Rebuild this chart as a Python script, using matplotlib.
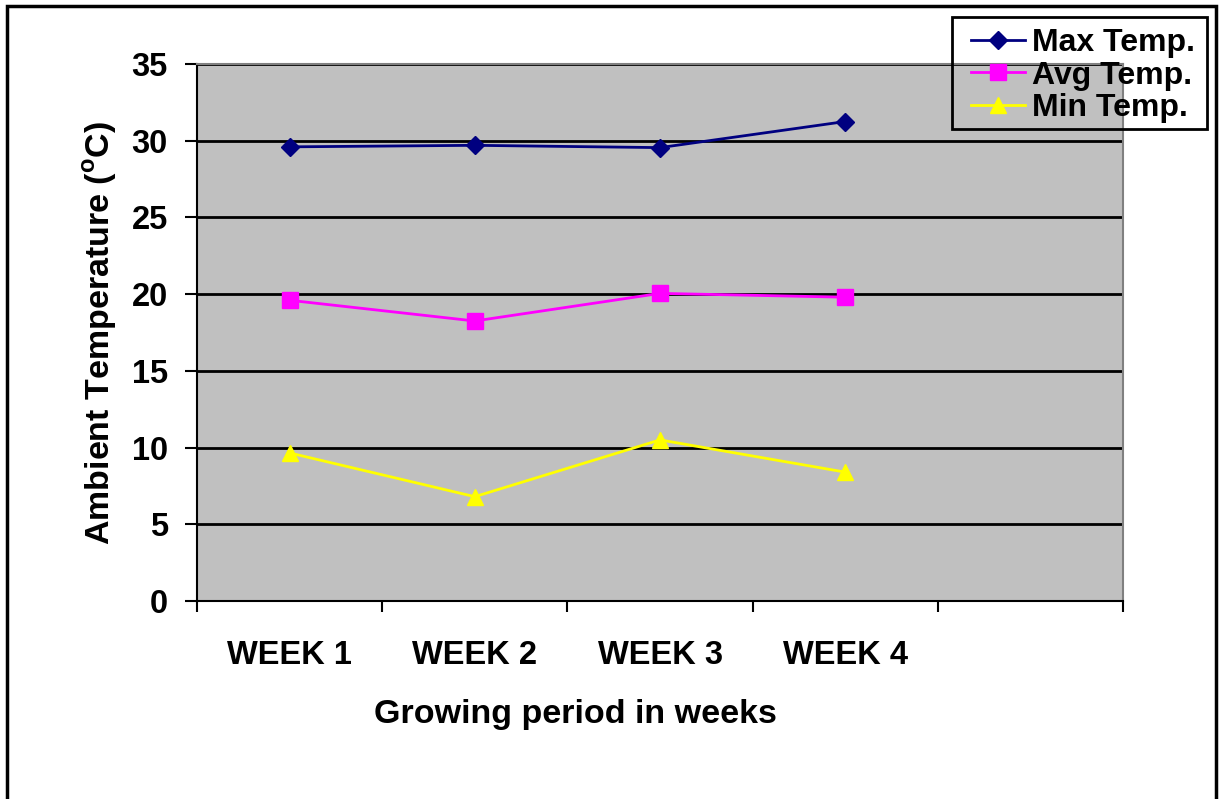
import matplotlib
matplotlib.use("Agg")
import matplotlib.pyplot as plt
from matplotlib.patches import Rectangle
import numpy as np

plt.rcParams.update({
    "font.family": "Liberation Sans",
    "font.weight": "bold",
    "axes.labelweight": "bold",
    "mathtext.fontset": "custom",
    "mathtext.rm": "Liberation Sans:bold",
    "mathtext.bf": "Liberation Sans:bold",
})

weeks = ["WEEK 1", "WEEK 2", "WEEK 3", "WEEK 4"]
n_slots = 5  # category axis keeps one empty slot after week 4
max_temp = [29.6, 29.7, 29.55, 31.25]
avg_temp = [19.6, 18.25, 20.05, 19.8]
min_temp = [9.65, 6.8, 10.5, 8.4]

W, H = 1219, 799
fig = plt.figure(figsize=(W / 100, H / 100), dpi=100)
ax = fig.add_axes([197 / W, 1 - 601 / H, (1123 - 197) / W, (601 - 64) / H])
ax.set_facecolor("#C0C0C0")

x = np.arange(len(weeks)) + 0.5
ax.plot(x, max_temp, color="#000080", lw=2, marker="D", ms=9.5, label="Max Temp.", zorder=3)
ax.plot(x, avg_temp, color="#FF00FF", lw=2, marker="s", ms=11, label="Avg Temp.", zorder=3)
ax.plot(x, min_temp, color="#FFFF00", lw=2, marker="^", ms=12, label="Min Temp.", zorder=3)

ax.set_xlim(0, n_slots)
ax.set_ylim(0, 35)
ax.set_yticks(np.arange(0, 36, 5))
ax.yaxis.grid(True, color="black", lw=2)
ax.set_axisbelow(True)

ax.set_xticks(np.arange(0, n_slots + 1))
ax.set_xticklabels([])
ax.set_xticks(x, minor=True)
ax.set_xticklabels(weeks, minor=True)
ax.tick_params(axis="x", which="major", direction="out", length=8, width=1.5)
ax.tick_params(axis="x", which="minor", length=0, pad=28, labelsize=23.5)
ax.tick_params(axis="y", direction="out", length=9, width=1.5, pad=12, labelsize=23.5)

for side in ("left", "bottom"):
    ax.spines[side].set_color("black")
    ax.spines[side].set_linewidth(1.5)
for side in ("top", "right"):
    ax.spines[side].set_color("#808080")
    ax.spines[side].set_linewidth(1.5)

ax.set_xlabel("Growing period in weeks", fontsize=24.5)
ax.xaxis.set_label_coords((575 - 197) / 926, -0.183)
ax.set_ylabel(r"Ambient Temperature ($^{\mathbf{o}}$C)", fontsize=24.5, labelpad=9)

# transparent legend with its own box, so the plot area shows through
fig.legend(loc="upper left", bbox_to_anchor=(971 / W, 1 - 28 / H),
           fontsize=23, handlelength=1.69, labelspacing=0.08,
           borderpad=0, handletextpad=0.22, borderaxespad=0, frameon=False)
fig.patches.append(Rectangle((952 / W, 1 - 129 / H), (1207 - 952) / W, 112 / H,
                             transform=fig.transFigure, fill=False,
                             edgecolor="black", lw=2, zorder=6))

fig.patches.append(Rectangle((7 / W, -0.1), (1216 - 7) / W, 1.1 - 6 / H,
                             transform=fig.transFigure, fill=False,
                             edgecolor="black", lw=2.5))

fig.savefig("out.png", dpi=100)
